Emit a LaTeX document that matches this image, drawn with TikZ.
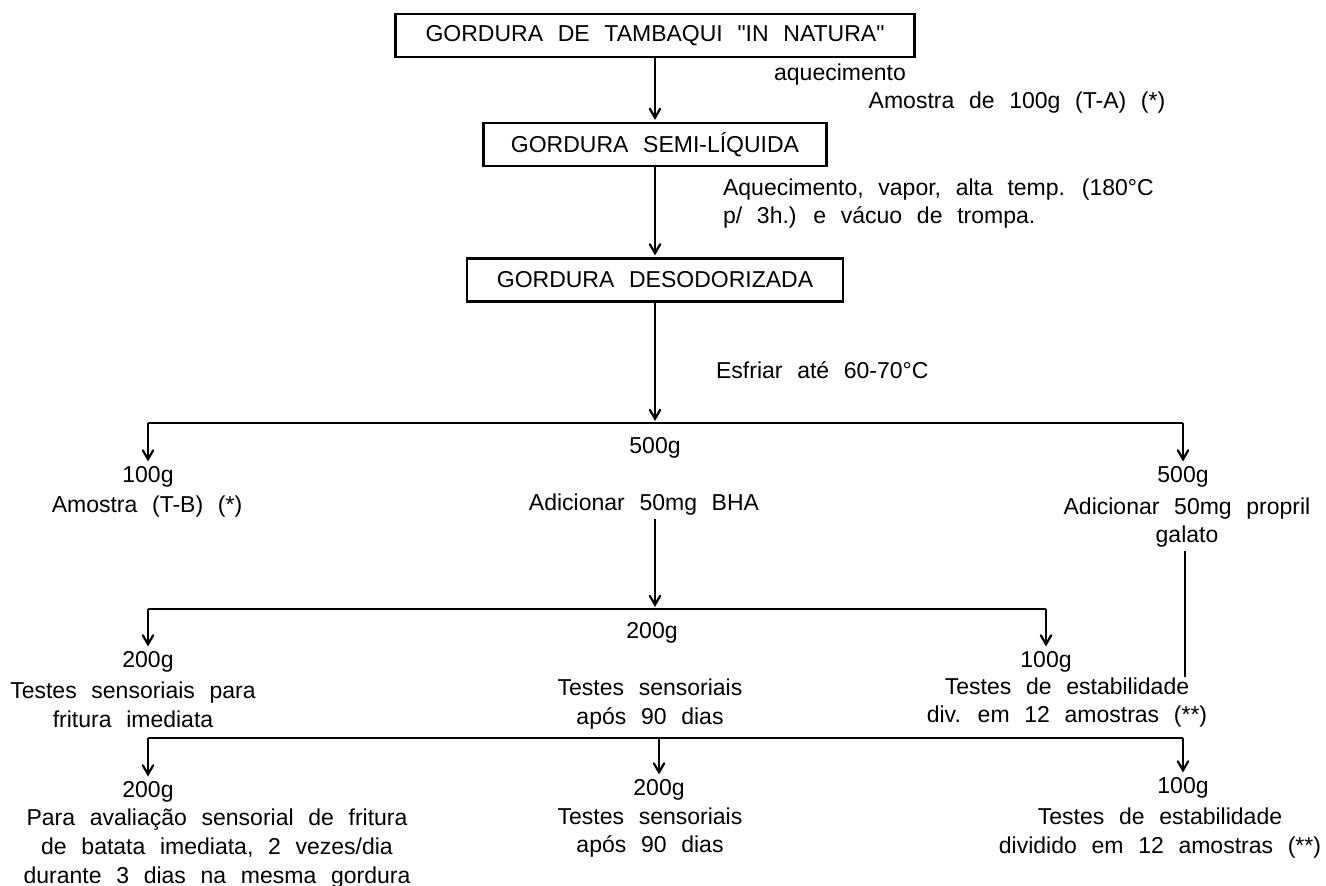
\documentclass[tikz,border=0pt]{standalone}
\usepackage{fontspec}
\setmainfont[WordSpace=2.3,Ligatures=TeXOff]{Liberation Sans}
\usetikzlibrary{arrows}

\begin{document}
\begin{tikzpicture}[x=0.5pt,y=-0.5pt,>=angle 60,line width=1.1pt,
    every node/.style={font=\fontsize{11.5}{14.3}\selectfont,inner sep=1pt},
    caixa/.style={draw,minimum height=21.5pt,inner sep=3pt},
    texto/.style={align=center},
    seta/.style={->,shorten >=1pt}]
    \useasboundingbox (0,0) rectangle (1326,886);
    % caixas do topo
    \node[caixa,minimum width=259.5pt] (natura) at (655,35.5) {GORDURA DE TAMBAQUI "IN NATURA"};
    \node[caixa,minimum width=171.5pt] (semi) at (655,144.5) {GORDURA SEMI-LÍQUIDA};
    \node[caixa,minimum width=188pt] (desod) at (655,280) {GORDURA DESODORIZADA};
    \node (aquec) at (840,75) {aquecimento};
    \node (amostraA) at (1017,103) {Amostra de 100g (T-A) (*)};
    \node[align=left,anchor=west] (vapor) at (720,203.5) {Aquecimento, vapor, alta temp. (180°C\\p/ 3h.) e vácuo de trompa.};
    \node[anchor=west] (esfriar) at (713,370) {Esfriar até 60-70°C};
    % primeira divisao
    \coordinate (e1) at (148,423);
    \coordinate (j1) at (655,423);
    \coordinate (d1) at (1183,423);
    \node (p100a) at (148,477) {100g};
    \node (amostraB) at (147,507) {Amostra (T-B) (*)};
    \node (m500) at (655,448) {500g};
    \node (bha) at (644,505) {Adicionar 50mg BHA};
    \node (p500) at (1183,477) {500g};
    \node[texto] (galato) at (1187,522.5) {Adicionar 50mg propril\\galato};
    \coordinate (g1) at (1185,677);
    % segunda divisao
    \coordinate (e2) at (148,609);
    \coordinate (j2) at (655,609);
    \coordinate (d2) at (1046,609);
    \node (p200a) at (148,662) {200g};
    \node[texto] (fritura) at (133,705) {Testes sensoriais para\\fritura imediata};
    \node (m200) at (652,633) {200g};
    \node[texto] (sens1) at (650,704) {Testes sensoriais\\após 90 dias};
    \node (p100b) at (1046,662) {100g};
    \node[texto] (estab1) at (1067,702.5) {Testes de estabilidade\\div. em 12 amostras (**)};
    % terceira divisao
    \coordinate (e3) at (148,738);
    \coordinate (c3) at (659,738);
    \coordinate (d3) at (1183,738);
    \node (p200b) at (148,792) {200g};
    \node[texto] (aval) at (217,848.5) {Para avaliação sensorial de fritura\\de batata imediata, 2 vezes/dia\\durante 3 dias na mesma gordura};
    \node (p200c) at (659,790) {200g};
    \node[texto] (sens2) at (650,832.5) {Testes sensoriais\\após 90 dias};
    \node (p100c) at (1183,788) {100g};
    \node[texto] (estab2) at (1160,833) {Testes de estabilidade\\dividido em 12 amostras (**)};

    \draw (e1) -- (d1);
    \draw (e2) -- (d2);
    \draw (e3) -- (d3);
    \draw (galato.south -| g1) -- (g1);
    \path[seta]
    (natura) edge (semi)
    (semi) edge (desod)
    (desod) edge (j1)
    (e1) edge (p100a)
    (d1) edge (p500)
    (bha.south -| j2) edge (j2)
    (e2) edge (p200a)
    (d2) edge (p100b)
    (e3) edge (p200b)
    (c3) edge (p200c)
    (d3) edge (p100c);
\end{tikzpicture}
\end{document}
